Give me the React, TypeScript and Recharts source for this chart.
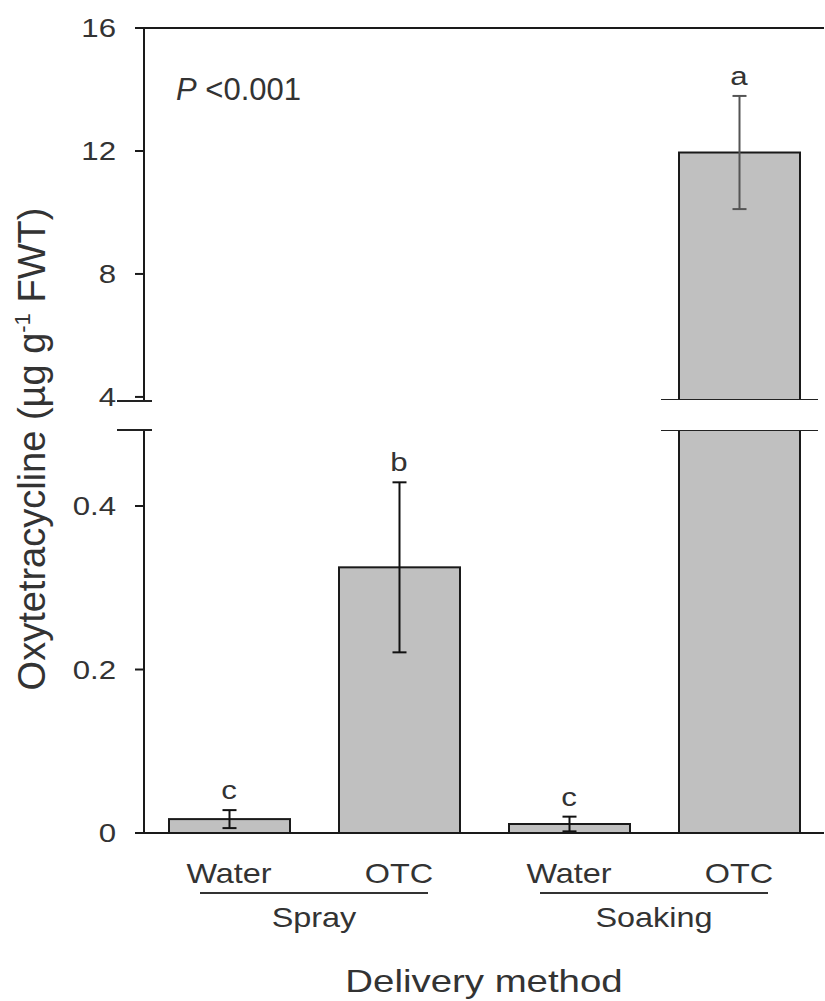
import React from "react";
import { ComposedChart, Bar, XAxis, YAxis, ErrorBar, Scatter, ReferenceLine } from "recharts";

const groups = ["Spray", "Spray", "Soaking", "Soaking"];
const treatments = ["Water", "OTC", "Water", "OTC"];
const means = [0.017, 0.325, 0.011, 11.95];
const errors = [0.011, 0.104, 0.009, 1.84];
const letters = ["c", "b", "c", "a"];
const upperTicks = [4, 8, 12, 16];
const lowerTicks = [0, 0.2, 0.4];

const UPPER_DOMAIN: [number, number] = [3.9, 16];
const LOWER_DOMAIN: [number, number] = [0, 0.493];

const FONT = "'Liberation Sans', Arial, sans-serif";
const TXT = "#333";
const SX = 1.2; // glyphs in the figure are a bit wide

const keyOf = (i: number) => `${groups[i]}|${treatments[i]}`;

const upperData = means.map((m, i) => {
  const on = m > UPPER_DOMAIN[0];
  return {
    key: keyOf(i),
    group: groups[i],
    v: on ? m : null,
    err: on ? errors[i] : null,
    lab: on ? m + errors[i] : null,
    letter: on ? letters[i] : null,
  };
});

const lowerData = means.map((m, i) => {
  const broken = m > LOWER_DOMAIN[1];
  return {
    key: keyOf(i),
    group: groups[i],
    v: Math.min(m, LOWER_DOMAIN[1]),
    broken,
    err: broken ? null : errors[i],
    lab: broken ? null : m + errors[i],
    letter: broken ? null : letters[i],
  };
});

const fmt = (v: number) => (v === 0 ? "0" : String(v));

const YTick = (props: any) => {
  const { x, y, payload } = props;
  return (
    <text
      transform={`translate(${x},${y}) scale(${SX},1)`}
      textAnchor="end"
      dy="0.36em"
      fontSize={26}
      fill={TXT}
      fontFamily={FONT}
    >
      {fmt(payload.value)}
    </text>
  );
};

const CatTick = (props: any) => {
  const { x, y, payload } = props;
  return (
    <text
      transform={`translate(${x},${y + 50}) scale(${SX},1)`}
      textAnchor="middle"
      fontSize={27}
      fill={TXT}
      fontFamily={FONT}
    >
      {String(payload.value).split("|")[1]}
    </text>
  );
};

const GroupTick = (props: any) => {
  const { x, y, payload } = props;
  return (
    <g>
      <line x1={x - 114} x2={x + 114} y1={y + 10} y2={y + 10} stroke="#333" strokeWidth={2} />
      <text
        transform={`translate(${x},${y + 44}) scale(${SX},1)`}
        textAnchor="middle"
        fontSize={27}
        fill={TXT}
        fontFamily={FONT}
      >
        {payload.value}
      </text>
    </g>
  );
};

const AxisTitle = (props: any) => {
  const { viewBox } = props;
  const cx = viewBox.x + viewBox.width / 2;
  const by = viewBox.y + viewBox.height - 9;
  return (
    <text
      transform={`translate(${cx},${by}) scale(${SX},1)`}
      textAnchor="middle"
      fontSize={32}
      fill={TXT}
      fontFamily={FONT}
    >
      Delivery method
    </text>
  );
};

// bar with a break mark at the cut edge
const makeBar = (edge: "top" | "bottom") => (props: any) => {
  const { x, y, width, height, payload } = props;
  if (payload.v == null || !(height > 0)) return <g />;
  const cut = edge === "bottom" || payload.broken;
  const ly = edge === "bottom" ? y + height : y;
  return (
    <g>
      <rect x={x} y={y} width={width} height={height} fill="#c0c0c0" stroke="#1a1a1a" strokeWidth={2} />
      {cut && <line x1={x - 18} x2={x + width + 18} y1={ly} y2={ly} stroke="#222" strokeWidth={2} />}
    </g>
  );
};

const LetterShape = (props: any) => {
  const { cx, cy, payload } = props;
  if (!payload.letter || !Number.isFinite(cx) || !Number.isFinite(cy)) return <g />;
  return (
    <text
      transform={`translate(${cx},${cy - 11}) scale(${SX},1)`}
      textAnchor="middle"
      fontSize={26}
      fill={TXT}
      fontFamily={FONT}
    >
      {payload.letter}
    </text>
  );
};

const axisStroke = { stroke: "#1a1a1a", strokeWidth: 2 };

export default function App() {
  return (
    <div style={{ position: "absolute", left: 0, top: 0, width: 825, height: 1001, background: "#fff" }}>
      <div style={{ position: "absolute", left: 0, top: 420 }}>
        <ComposedChart width={825} height={581} data={lowerData} margin={{ top: 10, right: 1, left: 0, bottom: 0 }}>
          <XAxis
            dataKey="key"
            height={50}
            axisLine={axisStroke}
            tickLine={false}
            tickSize={0}
            tickMargin={0}
            interval={0}
            tick={<CatTick />}
          />
          <XAxis
            xAxisId="grp"
            dataKey="group"
            allowDuplicatedCategory={false}
            height={118}
            axisLine={false}
            tickLine={false}
            tickSize={0}
            tickMargin={0}
            interval={0}
            tick={<GroupTick />}
            label={<AxisTitle />}
          />
          <YAxis
            type="number"
            domain={LOWER_DOMAIN}
            allowDataOverflow
            ticks={lowerTicks}
            interval={0}
            width={144}
            tickSize={9}
            tickMargin={19}
            axisLine={axisStroke}
            tickLine={axisStroke}
            tick={<YTick />}
          />
          <Bar dataKey="v" barSize={121} shape={makeBar("top")} isAnimationActive={false}>
            <ErrorBar dataKey="err" width={7} stroke="#111" strokeWidth={2} direction="y" />
          </Bar>
          <Scatter dataKey="lab" shape={<LetterShape />} isAnimationActive={false} />
        </ComposedChart>
      </div>

      <div style={{ position: "absolute", left: 0, top: 0 }}>
        <ComposedChart width={825} height={416} data={upperData} margin={{ top: 28, right: 1, left: 0, bottom: 16 }}>
          <XAxis dataKey="key" hide />
          <YAxis
            type="number"
            domain={UPPER_DOMAIN}
            allowDataOverflow
            ticks={upperTicks}
            interval={0}
            width={144}
            tickSize={9}
            tickMargin={19}
            axisLine={axisStroke}
            tickLine={axisStroke}
            tick={<YTick />}
          />
          <ReferenceLine y={16} stroke="#1a1a1a" strokeWidth={2} />
          <Bar dataKey="v" barSize={121} shape={makeBar("bottom")} isAnimationActive={false}>
            <ErrorBar dataKey="err" width={7} stroke="#555" strokeWidth={2} direction="y" />
          </Bar>
          <Scatter dataKey="lab" shape={<LetterShape />} isAnimationActive={false} />
        </ComposedChart>
      </div>

      <svg width={825} height={1001} style={{ position: "absolute", left: 0, top: 0, pointerEvents: "none" }}>
        <line x1={117} x2={152} y1={401} y2={401} stroke="#222" strokeWidth={2} />
        <line x1={117} x2={152} y1={430} y2={430} stroke="#222" strokeWidth={2} />
        <text x={176} y={100} fontSize={31} fill={TXT} fontFamily={FONT}>
          <tspan fontStyle="italic">P</tspan> &lt;0.001
        </text>
        <text
          transform="translate(45,449) rotate(-90)"
          textAnchor="middle"
          fontSize={38}
          fill={TXT}
          fontFamily={FONT}
        >
          Oxytetracycline (µg g<tspan fontSize={22} dy={-15}>-1</tspan>
          <tspan dy={15}> FWT)</tspan>
        </text>
      </svg>
    </div>
  );
}
